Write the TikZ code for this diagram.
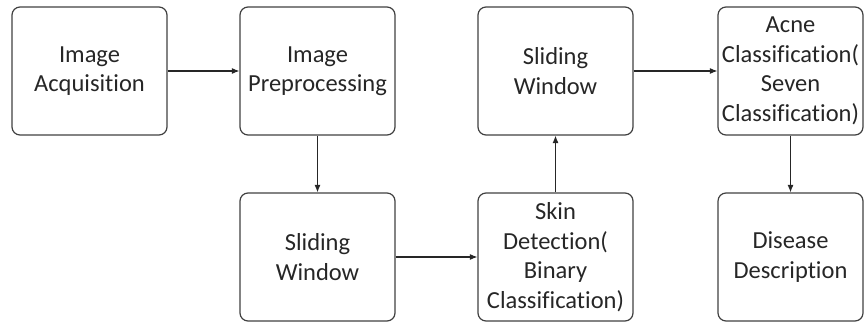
\documentclass[tikz,border=0pt]{standalone}
\usepackage{fontspec}
\setmainfont[Ligatures=NoCommon]{Carlito}
\usepackage{tikz}
\usetikzlibrary{positioning,arrows.meta}

\begin{document}
\begin{tikzpicture}[x=1pt,y=-1pt,
  stage/.style={draw=black!75, line width=1.2pt, rounded corners=8pt, align=center,
    minimum width=155pt, minimum height=128pt, inner sep=1pt, text=black!85,
    font=\fontsize{24.5}{29.5}\selectfont},
  narrow/.style={minimum width=145pt},
  flow/.style={-{Latex[length=7.5pt,width=6pt]}, line width=1.1pt, black!85}]
  \useasboundingbox (0,0) rectangle (864,321);

  % top row
  \node[stage] (acq)    at (89.5,71)  {Image\\Acquisition};
  \node[stage] (prep)   at (317.5,71) {Image\\Preprocessing};
  \node[stage] (slideB) at (555.5,71) {Sliding\\Window};
  \node[stage, narrow] (acne) at (790.5,71) {Acne\\Classification(\\Seven\\Classification)};

  % bottom row
  \node[stage] (slideA) at (317.5,257) {Sliding\\Window};
  \node[stage] (skin)   at (555.5,257) {Skin\\Detection(\\Binary\\Classification)};
  \node[stage, narrow] (desc) at (790.5,257) {Disease\\Description};

  \draw[flow] (acq) -- (prep);
  \draw[flow] (prep) -- (slideA);
  \draw[flow] (slideA) -- (skin);
  \draw[flow] (skin) -- (slideB);
  \draw[flow] (slideB) -- (acne);
  \draw[flow] (acne) -- (desc);

\end{tikzpicture}
\end{document}
